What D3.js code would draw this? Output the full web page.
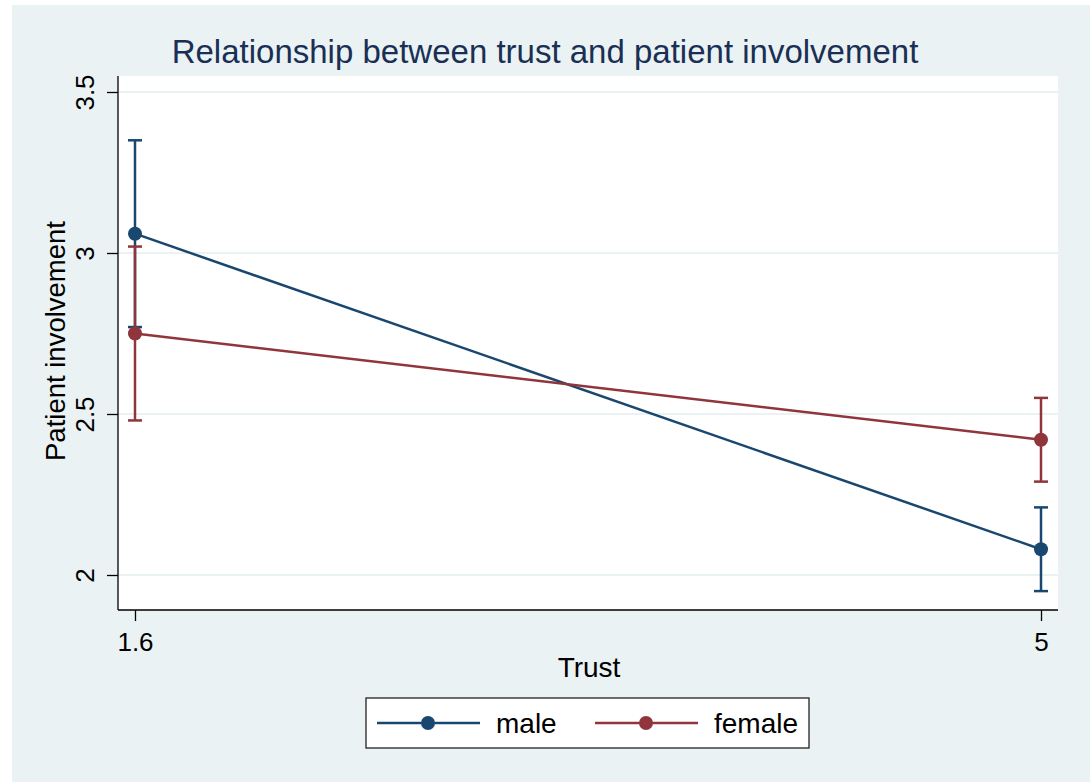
<!DOCTYPE html>
<html><head><meta charset="utf-8">
<script src="https://cdn.jsdelivr.net/npm/d3@7"></script>
<style>body{margin:0;background:#fff}svg{display:block}text{font-family:"Liberation Sans",Arial,sans-serif}</style>
</head><body><svg id="c" width="1090" height="782"></svg>
<script>
const xTicks = [1.6, 5];
const yTicks = [2, 2.5, 3, 3.5];
const seriesNames = ["male", "female"];
const seriesColors = ["#1a476f", "#90353b"];
const maleMean = [3.06, 2.08];
const maleLo = [2.77, 1.95];
const maleHi = [3.35, 2.21];
const femaleMean = [2.75, 2.42];
const femaleLo = [2.48, 2.29];
const femaleHi = [3.02, 2.55];

const series = [
  {name: seriesNames[0], color: seriesColors[0], mean: maleMean, lo: maleLo, hi: maleHi},
  {name: seriesNames[1], color: seriesColors[1], mean: femaleMean, lo: femaleLo, hi: femaleHi}
];

const svg = d3.select("#c");
svg.append("rect").attr("x",12).attr("y",5).attr("width",1078).attr("height",777).attr("fill","#eaf2f3");

const L=118, R=1058, T=76, B=610;
const x = d3.scaleLinear().domain([1.6,5]).range([135,1041]);
const y = d3.scaleLinear().domain([2,3.5]).range([575,92]);

svg.append("rect").attr("x",L).attr("y",T).attr("width",R-L).attr("height",B-T).attr("fill","#fff");
// grid
svg.append("g").selectAll("line").data(yTicks).join("line")
  .attr("x1",L).attr("x2",R).attr("y1",d=>y(d)).attr("y2",d=>y(d))
  .attr("stroke","#eaf2f3").attr("stroke-width",2);

// axes
const yAxis = d3.axisLeft(y).tickValues(yTicks).tickSize(11).tickSizeOuter(0).tickFormat(d3.format("~g"));
const gy = svg.append("g").attr("transform",`translate(${L},0)`).call(yAxis);
gy.select(".domain").remove();
gy.append("line").attr("x1",0).attr("x2",0).attr("y1",T).attr("y2",B).attr("stroke","#000").attr("stroke-width",1.3);
gy.selectAll(".tick line").attr("stroke","#000").attr("stroke-width",1.3);
gy.selectAll(".tick text").attr("font-size",26).attr("fill","#000")
  .attr("text-anchor","middle").attr("x",0).attr("y",0).attr("dy",0)
  .attr("transform","translate(-24,0) rotate(-90)");

const xAxis = d3.axisBottom(x).tickValues(xTicks).tickSize(11).tickSizeOuter(0).tickFormat(d3.format("~g"));
const gx = svg.append("g").attr("transform",`translate(0,${B})`).call(xAxis);
gx.select(".domain").remove();
gx.append("line").attr("x1",L).attr("x2",R).attr("y1",0).attr("y2",0).attr("stroke","#000").attr("stroke-width",1.3);
gx.selectAll(".tick line").attr("stroke","#000").attr("stroke-width",1.3);
gx.selectAll(".tick text").attr("font-size",26).attr("fill","#000").attr("y",41).attr("dy",0);

// titles
svg.append("text").attr("x",545).attr("y",63).attr("text-anchor","middle").attr("font-size",33).attr("fill","#1a2f55").text("Relationship between trust and patient involvement");
svg.append("text").attr("x",589).attr("y",677).attr("text-anchor","middle").attr("font-size",28).attr("fill","#000").text("Trust");
svg.append("text").attr("transform",`translate(65,341) rotate(-90)`).attr("text-anchor","middle").attr("font-size",27.5).attr("fill","#000").text("Patient involvement");

// series
const plot = svg.append("g");
series.forEach(s=>{
  const g = plot.append("g");
  const pts = xTicks.map((xv,i)=>({x:xv, m:s.mean[i], lo:s.lo[i], hi:s.hi[i]}));
  g.append("path").datum(pts).attr("fill","none").attr("stroke",s.color).attr("stroke-width",2.5)
    .attr("d",d3.line().x(d=>x(d.x)).y(d=>y(d.m)));
  pts.forEach(p=>{
    g.append("line").attr("x1",x(p.x)).attr("x2",x(p.x)).attr("y1",y(p.lo)).attr("y2",y(p.hi)).attr("stroke",s.color).attr("stroke-width",2.5);
    [p.lo,p.hi].forEach(v=>g.append("line").attr("x1",x(p.x)-7).attr("x2",x(p.x)+7).attr("y1",y(v)).attr("y2",y(v)).attr("stroke",s.color).attr("stroke-width",2.5));
    g.append("circle").attr("cx",x(p.x)).attr("cy",y(p.m)).attr("r",7).attr("fill",s.color);
  });
});

// legend
const lg = svg.append("g");
lg.append("rect").attr("x",366).attr("y",698).attr("width",443).attr("height",50).attr("fill","#fff").attr("stroke","#222").attr("stroke-width",1.3);
const lx = [377, 595];
series.forEach((s,i)=>{
  lg.append("line").attr("x1",lx[i]).attr("x2",lx[i]+103).attr("y1",723).attr("y2",723).attr("stroke",s.color).attr("stroke-width",2.5);
  lg.append("circle").attr("cx",lx[i]+51).attr("cy",723).attr("r",7).attr("fill",s.color);
  lg.append("text").attr("x",lx[i]+119).attr("y",733).attr("font-size",28).attr("fill","#000").text(s.name);
});
</script></body></html>
